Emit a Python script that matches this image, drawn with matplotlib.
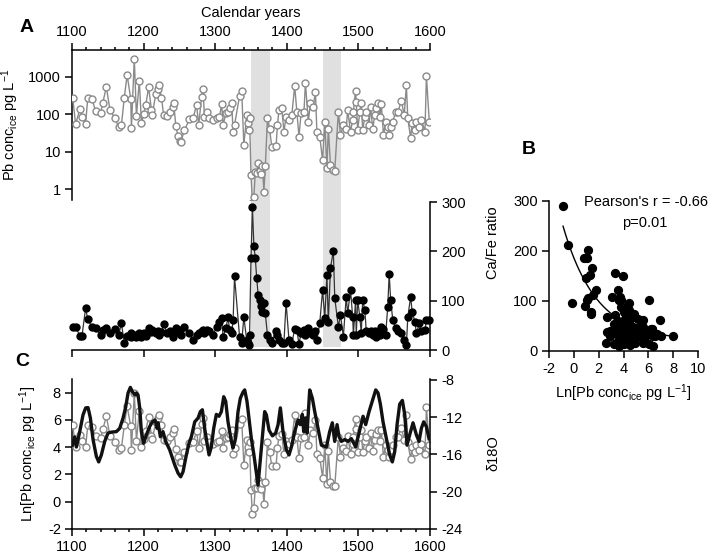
import numpy as np
import matplotlib
matplotlib.use("Agg")
import matplotlib.pyplot as plt
from matplotlib.ticker import FixedLocator, NullLocator, MultipleLocator, FixedFormatter

plt.rcParams['font.family'] = ['Liberation Sans', 'DejaVu Sans']
plt.rcParams['mathtext.fontset'] = 'custom'
plt.rcParams['mathtext.rm'] = 'Liberation Sans'
plt.rcParams['mathtext.it'] = 'Liberation Sans:italic'
plt.rcParams['mathtext.bf'] = 'Liberation Sans:bold'
plt.rcParams['axes.unicode_minus'] = False

# ---------------- data ----------------
years = [1101, 1105, 1111, 1114, 1119, 1122, 1128, 1133, 1140, 1143, 1148, 1153, 1160, 1165, 1169,
         1173, 1177, 1182, 1183, 1187, 1190, 1194, 1197, 1200, 1203, 1207, 1211, 1212, 1217, 1220,
         1222, 1225, 1228, 1233, 1237, 1241, 1242, 1245, 1248, 1251, 1252, 1257, 1264, 1269, 1274,
         1277, 1281, 1283, 1285, 1289, 1292, 1297, 1302, 1306, 1309, 1311, 1315, 1318, 1320, 1323,
         1325, 1327, 1334, 1337, 1340, 1344, 1346, 1347, 1348, 1350, 1352, 1354, 1356, 1358, 1360,
         1362, 1364, 1366, 1368, 1370, 1373, 1376, 1379, 1385, 1387, 1389, 1393, 1396, 1399, 1403,
         1407, 1411, 1414, 1417, 1420, 1424, 1426, 1430, 1433, 1437, 1440, 1442, 1446, 1450, 1453,
         1456, 1458, 1461, 1465, 1467, 1472, 1475, 1479, 1483, 1485, 1489, 1492, 1493, 1496, 1497,
         1499, 1502, 1504, 1506, 1509, 1511, 1515, 1517, 1520, 1523, 1525, 1527, 1530, 1532, 1535,
         1538, 1541, 1543, 1545, 1548, 1552, 1555, 1560, 1564, 1567, 1569, 1573, 1575, 1579, 1581,
         1585, 1588, 1593, 1595, 1599]

pb_conc = [270, 54, 133, 85, 54, 270, 246, 120, 104, 200, 525, 128, 77, 46, 50,
           270, 1100, 255, 43, 3000, 88, 780, 57, 100, 173, 515, 128, 96, 335, 455,
           580, 270, 92, 88, 115, 150, 200, 48, 26, 19, 18, 37, 72, 77, 173,
           51, 290, 455, 85, 115, 77, 69, 77, 85, 182, 51, 104, 115, 142, 194,
           34, 51, 302, 420, 15, 94, 57, 37, 77, 2.3, 0.42, 0.62, 2.8, 2.7, 4.8,
           3.0, 2.5, 4.0, 0.85, 4.1, 77, 39, 13.5, 14, 51, 128, 142, 34, 85, 69,
           94, 560, 115, 25, 104, 115, 690, 62, 194, 156, 395, 34, 25, 5.9, 62,
           3.6, 41, 4.4, 3.2, 3.1, 115, 27.5, 51, 41, 128, 34, 69, 115, 420, 213,
           37, 115, 194, 37, 85, 115, 51, 156, 41, 94, 142, 194, 85, 190, 27,
           62, 45, 27.5, 45, 62, 115, 115, 220, 94, 580, 77, 22.5, 57, 37, 62,
           45, 69, 34, 1030, 62]

ca_fe = [47, 47, 29, 29, 85, 62, 47, 45, 30, 40, 44, 34, 42, 30, 54,
         15, 29, 27, 34, 30, 26, 34, 27, 34, 29, 44, 36, 40, 34, 38,
         30, 36, 52, 34, 38, 27, 34, 44, 36, 40, 30, 47, 34, 20, 30,
         34, 38, 40, 34, 40, 38, 30, 47, 57, 64, 27, 44, 67, 40, 34,
         60, 149, 27, 14, 67, 20, 14, 10, 30, 186, 289, 211, 186, 145, 111,
         101, 89, 78, 95, 74, 30, 20, 15, 38, 30, 20, 15, 15, 96, 21,
         12, 43, 40, 13, 34, 40, 30, 44, 34, 30, 38, 20, 54, 122, 64,
         152, 57, 166, 201, 105, 47, 71, 27, 108, 74, 122, 67, 30, 101, 30,
         101, 67, 34, 101, 81, 38, 34, 38, 30, 38, 27, 34, 30, 47, 42,
         30, 88, 155, 102, 61, 44, 38, 34, 20, 10, 67, 108, 78, 57, 34,
         54, 38, 40, 61, 61]

d18o_years = [1100.5, 1103.8, 1106.1, 1110.8, 1115.4, 1119.1, 1122.4, 1125.7, 1129.4, 1134.0,
              1137.3, 1141.0, 1145.7, 1150.3, 1155.0, 1162.0, 1166.6, 1171.3, 1175.0, 1178.3,
              1181.5, 1184.3, 1187.6, 1189.9, 1192.2, 1194.6, 1196.9, 1200.1, 1203.9, 1208.5,
              1212.2, 1216.0, 1218.8, 1220.2, 1223.4, 1227.1, 1230.9, 1236.4, 1243.4, 1248.1,
              1251.8, 1255.1, 1259.7, 1263.4, 1266.7, 1271.4, 1276.0, 1279.3, 1282.1, 1285.3,
              1288.6, 1291.4, 1294.6, 1297.9, 1301.6, 1305.3, 1308.6, 1311.9, 1314.7, 1317.9,
              1322.6, 1324.9, 1328.2, 1331.9, 1335.1, 1338.9, 1341.2, 1344.4, 1348.2, 1350.5,
              1354.0, 1359.8, 1369.1, 1371.5, 1375.2, 1379.9, 1384.5, 1387.8, 1391.0, 1394.7,
              1399.4, 1403.1, 1406.4, 1411.0, 1415.7, 1418.9, 1421.7, 1423.6, 1426.4, 1428.3,
              1432.0, 1435.7, 1439.0, 1443.6, 1448.3, 1455.3, 1459.9, 1463.6, 1466.9, 1470.2,
              1473.0, 1476.2, 1480.9, 1485.5, 1490.2, 1496.2, 1501.8, 1506.5, 1510.2, 1514.9,
              1520.4, 1524.2, 1527.4, 1530.7, 1534.4, 1539.1, 1543.7, 1547.4, 1550.7, 1554.0,
              1557.7, 1561.4, 1564.7, 1567.9, 1571.6, 1576.3, 1581.0, 1584.7, 1587.9, 1591.2,
              1594.9, 1598.6]

d18o = [-15.0, -14.1, -15.2, -13.55, -11.75, -11.0, -10.97, -12.1, -14.4, -16.2,
        -16.8, -16.05, -14.6, -13.7, -13.6, -13.55, -13.2, -12.1, -10.9, -9.4,
        -8.8, -9.25, -9.6, -9.4, -9.6, -11.0, -13.55, -14.8, -13.9, -13.0,
        -12.5, -12.3, -13.2, -12.6, -14.1, -13.55, -14.6, -15.5, -17.1, -18.0,
        -18.4, -17.85, -16.05, -14.8, -14.1, -12.5, -12.1, -11.4, -11.2, -13.2,
        -14.8, -16.05, -15.2, -13.2, -11.7, -11.9, -11.4, -9.8, -10.3, -12.5,
        -14.6, -15.3, -14.3, -11.4, -9.96, -9.3, -9.07, -10.3, -12.8, -14.3,
        -16.0, -19.3, -11.4, -11.75, -13.4, -14.0, -13.7, -12.8, -11.0, -13.55,
        -15.5, -16.05, -15.2, -13.55, -12.3, -12.8, -11.7, -13.55, -12.1, -13.7,
        -9.07, -9.96, -11.4, -13.2, -15.0, -15.2, -13.55, -12.6, -14.6, -12.8,
        -14.1, -14.6, -14.4, -14.6, -14.3, -15.2, -13.4, -11.9, -12.8, -11.4,
        -10.0, -9.07, -9.4, -10.6, -12.5, -14.3, -16.05, -16.8, -15.7, -12.8,
        -10.6, -10.2, -11.7, -15.0, -13.9, -12.6, -13.9, -14.6, -13.2, -12.5,
        -13.0, -14.3]

shade_periods = [(1350, 1376), (1450, 1476)]
year_ticks = [1100, 1200, 1300, 1400, 1500, 1600]
pearson_text = "Pearson's r = -0.66"
p_text = "p=0.01"
# exponential regression shown in panel B: y = a*exp(-b*x) + c
fit_a, fit_b, fit_c = 166.0, 0.373, 20.0

# ---------------- layout helpers ----------------
W, H = 709, 556
fig = plt.figure(figsize=(W / 100, H / 100), dpi=100)


def rect(x0, y0, x1, y1):
    return [x0 / W, 1 - y1 / H, (x1 - x0) / W, (y1 - y0) / H]


FS = 10.5
GRAY = '#8a8a8a'
SHADE = '#e0e0e0'
SPW = 1.1


def style_ticks(ax):
    ax.tick_params(which='major', direction='out', length=5, width=SPW, labelsize=FS, pad=3)
    ax.tick_params(which='minor', direction='out', length=2.5, width=SPW)


years_a = np.array(years, dtype=float)
pb_a = np.array(pb_conc, dtype=float)
cafe_a = np.array(ca_fe, dtype=float)
ln_pb = np.log(pb_a)

# background shading spanning panel A
ax_bg = fig.add_axes(rect(72, 50, 430, 347))
ax_bg.set_xlim(1100, 1600)
for s, e in shade_periods:
    ax_bg.axvspan(s, e, color=SHADE, lw=0)
ax_bg.axis('off')

# ---- Panel A top: Pb concentration (log) ----
ax_pb = fig.add_axes(rect(72, 50, 430, 200))
ax_pb.patch.set_alpha(0)
ax_pb.set_yscale('log')
ax_pb.set_xlim(1100, 1600)
ax_pb.set_ylim(0.509, 5090)
ax_pb.plot(years_a, pb_a, '-', color=GRAY, lw=1.0, marker='o', ms=5,
           mfc='white', mec=GRAY, mew=1.0, zorder=3)
for sp in ['right', 'bottom']:
    ax_pb.spines[sp].set_visible(False)
for sp in ['left', 'top']:
    ax_pb.spines[sp].set_linewidth(SPW)
ax_pb.xaxis.tick_top()
ax_pb.xaxis.set_label_position('top')
ax_pb.xaxis.set_major_locator(FixedLocator(year_ticks))
ax_pb.xaxis.set_minor_locator(MultipleLocator(20))
ax_pb.yaxis.set_major_locator(FixedLocator([1, 10, 100, 1000]))
ax_pb.yaxis.set_major_formatter(FixedFormatter(['1', '10', '100', '1000']))
ax_pb.yaxis.set_minor_locator(NullLocator())
style_ticks(ax_pb)
ax_pb.set_xlabel('Calendar years', fontsize=FS, labelpad=6)
ax_pb.set_ylabel(r'Pb conc$_{\mathrm{ice}}$ pg L$^{\mathrm{-1}}$', fontsize=FS)
ax_pb.yaxis.set_label_coords((21 - 72) / 358, 0.5)

# ---- Panel A bottom: Ca/Fe ratio ----
ax_ca = fig.add_axes(rect(72, 202, 430, 350))
ax_ca.patch.set_alpha(0)
ax_ca.set_xlim(1100, 1600)
ax_ca.set_ylim(0, 300)
ax_ca.plot(years_a, cafe_a, '-', color='#333333', lw=0.9, marker='o', ms=5,
           mfc='black', mec='black', zorder=3, clip_on=False)
for sp in ['left', 'top']:
    ax_ca.spines[sp].set_visible(False)
for sp in ['right', 'bottom']:
    ax_ca.spines[sp].set_linewidth(SPW)
ax_ca.yaxis.tick_right()
ax_ca.yaxis.set_major_locator(FixedLocator([0, 100, 200, 300]))
ax_ca.xaxis.set_major_locator(FixedLocator(year_ticks))
ax_ca.tick_params(axis='x', labelbottom=False)
style_ticks(ax_ca)

# ---- Panel B: scatter ----
ax_b = fig.add_axes(rect(549, 201, 698, 350.5))
ax_b.set_xlim(-2, 10)
ax_b.set_ylim(0, 300)
xs = np.linspace(ln_pb.min(), ln_pb.max(), 200)
ax_b.plot(xs, fit_a * np.exp(-fit_b * xs) + fit_c, color='black', lw=1.0, zorder=2)
ax_b.scatter(ln_pb, cafe_a, s=32, color='black', zorder=3, clip_on=False)
for sp in ['right', 'top']:
    ax_b.spines[sp].set_visible(False)
for sp in ['left', 'bottom']:
    ax_b.spines[sp].set_linewidth(SPW)
ax_b.xaxis.set_major_locator(MultipleLocator(2))
ax_b.yaxis.set_major_locator(FixedLocator([0, 100, 200, 300]))
style_ticks(ax_b)
ax_b.set_xlabel(r'Ln[Pb conc$_{\mathrm{ice}}$ pg L$^{\mathrm{-1}}$]', fontsize=FS, labelpad=5)

# ---- Panel C ----
ax_c = fig.add_axes(rect(72, 379, 430, 529))
ax_c.set_xlim(1100, 1600)
ax_c.set_ylim(-2, 9)
ax_c.plot(years_a, ln_pb, '-', color=GRAY, lw=1.0, marker='o', ms=5,
          mfc='white', mec=GRAY, mew=1.0, zorder=3)
ax_c.spines['top'].set_visible(False)
ax_c.spines['right'].set_visible(False)
for sp in ['left', 'bottom']:
    ax_c.spines[sp].set_linewidth(SPW)
ax_c.xaxis.set_major_locator(FixedLocator(year_ticks))
ax_c.xaxis.set_minor_locator(MultipleLocator(20))
ax_c.yaxis.set_major_locator(MultipleLocator(2))
style_ticks(ax_c)
ax_c.set_ylabel(r'Ln[Pb conc$_{\mathrm{ice}}$ pg L$^{\mathrm{-1}}$]', fontsize=FS)
ax_c.yaxis.set_label_coords((39 - 72) / 358, 0.5)

ax_c2 = ax_c.twinx()
ax_c2.set_ylim(-24, -7.9)
ax_c2.plot(d18o_years, d18o, color='#111111', lw=2.4, zorder=4)
for sp in ['top', 'left', 'bottom']:
    ax_c2.spines[sp].set_visible(False)
ax_c2.spines['right'].set_linewidth(SPW)
ax_c2.yaxis.set_major_locator(FixedLocator([-24, -20, -16, -12, -8]))
style_ticks(ax_c2)

# ---- free texts ----
def ftext(x, y, s, **kw):
    fig.text(x / W, 1 - y / H, s, **kw)

ftext(27, 28, 'A', fontsize=14, fontweight='bold', ha='center', va='center')
ftext(22, 362, 'C', fontsize=14, fontweight='bold', ha='center', va='center')
ftext(529, 149, 'B', fontsize=14, fontweight='bold', ha='center', va='center')
ftext(493, 243, 'Ca/Fe ratio', fontsize=FS, rotation=90, ha='center', va='center')
ftext(493, 453, 'δ18O', fontsize=FS, rotation=90, ha='center', va='center')
ftext(646, 202, pearson_text, fontsize=FS, ha='center', va='center')
ftext(645, 223, p_text, fontsize=FS, ha='center', va='center')

fig.savefig('out.png', dpi=100)
